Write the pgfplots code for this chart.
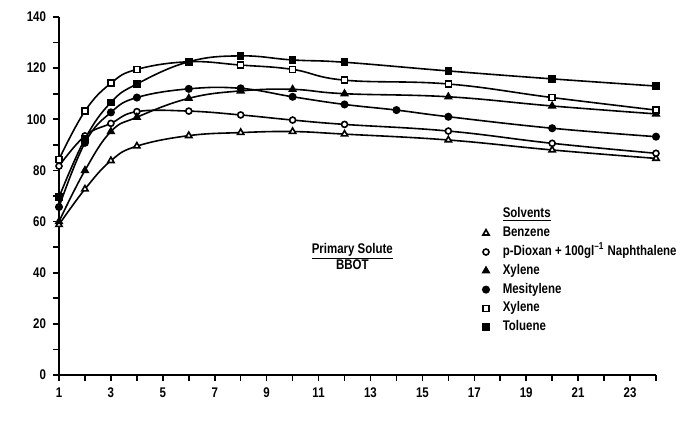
\documentclass[border=0pt]{standalone}
\usepackage{pgfplots}
\pgfplotsset{compat=1.18}
\usepackage{fontspec}
\setmainfont{Liberation Sans}[FakeStretch=0.82]

% RPH against BBOT concentration for several solvents
\pgfplotstableread{
x y
1 58.8
2 72.7
3 83.8
4 89.5
6 93.6
8 94.8
10 95.2
12 94.2
16 91.9
20 88.0
24 84.7
}\benzene
\pgfplotstableread{
x y
1 81.7
2 93.5
3 98.4
4 103.0
6 103.2
8 101.7
10 99.7
12 98.0
16 95.4
20 90.6
24 86.7
}\dioxan
\pgfplotstableread{
x y
1 60.0
2 80.0
3 95.2
4 100.8
6 108.2
8 111.1
10 111.7
12 110.0
16 108.8
20 105.2
24 102.1
}\xyleneA
\pgfplotstableread{
x y
1 65.7
2 90.8
3 102.7
4 108.5
6 111.9
8 112.1
10 108.8
12 105.8
14 103.6
16 101.0
20 96.5
24 93.2
}\mesitylene
\pgfplotstableread{
x y
1 84.3
2 103.2
3 114.1
4 119.5
6 122.5
8 121.2
10 119.5
12 115.3
16 113.8
20 108.5
24 103.6
}\xyleneB
\pgfplotstableread{
x y
1 69.5
2 92.3
3 106.6
4 113.8
6 122.5
8 124.8
10 123.2
12 122.3
16 118.9
20 115.8
24 113.0
}\toluene

\begin{document}
\begin{tikzpicture}
\path[use as bounding box] (-29.5pt,-27pt) rectangle (318.5pt,187.5pt);
\begin{axis}[
  at={(0,0)}, anchor=south west,
  width=298.5pt, height=179pt, scale only axis,
  xmin=1, xmax=24, ymin=0, ymax=140,
  axis x line=bottom, axis y line=left,
  axis line style={-, line width=0.9pt},
  xtick={1,3,...,23}, minor xtick={2,4,...,24},
  ytick={0,20,...,140}, minor ytick={10,30,...,130},
  tick align=outside,
  major tick length=3pt, minor tick length=3pt,
  tick style={black, line width=0.8pt},
  /pgf/number format/assume math mode=true,
  font=\fontsize{7}{8}\selectfont\bfseries,
  tick label style={font=\fontsize{7}{8}\selectfont\bfseries},
  every axis plot/.append style={black, line width=0.8pt, smooth, tension=0.7},
  legend image code/.code={\draw[#1, only marks] plot coordinates {(0pt,0pt)};
    \path (-2pt,0pt) (8pt,0pt);},
  legend style={draw=none, fill=none, at={(axis cs:17.25,65.5)}, anchor=north west,
    inner sep=0pt, row sep=2.9pt,
    nodes={text height=5pt, text depth=1.5pt, inner sep=0pt, font=\fontsize{7}{8}\selectfont\bfseries}},
  legend cell align=left,
]
\addlegendimage{empty legend}
\addlegendentry{\underline{Solvents}}
\addplot[mark=triangle*, mark size=1.8pt, mark options={solid, fill=white}] table {\benzene};
\addlegendentry{Benzene}
\addplot[mark=*, mark size=1.5pt, mark options={solid, fill=white}] table {\dioxan};
\addlegendentry{p-Dioxan + 100gl\textsuperscript{--1} Naphthalene}
\addplot[mark=triangle*, mark size=1.8pt, mark options={solid, fill=black}] table {\xyleneA};
\addlegendentry{Xylene}
\addplot[mark=*, mark size=1.6pt, mark options={solid, fill=black}] table {\mesitylene};
\addlegendentry{Mesitylene}
\addplot[mark=square*, mark size=1.5pt, mark options={solid, fill=white}] table {\xyleneB};
\addlegendentry{Xylene}
\addplot[mark=square*, mark size=1.5pt, mark options={solid, fill=black}] table {\toluene};
\addlegendentry{Toluene}

\node[font=\fontsize{7}{8}\selectfont\bfseries] at (axis cs:12.3,48.3) {\underline{Primary Solute}};
\node[font=\fontsize{7}{8}\selectfont\bfseries] at (axis cs:12.3,43.2) {BBOT};
\node[font=\fontsize{7}{8}\selectfont\bfseries] at ([yshift=-21.5pt]axis cs:11.44,0)
  {BBOT Concentration (gl\textsuperscript{--1})};
\node[rotate=90, font=\fontsize{7}{8}\selectfont\bfseries] at ([xshift=-23.5pt]axis cs:1,66.5)
  {RPH};
\end{axis}
\end{tikzpicture}
\end{document}
